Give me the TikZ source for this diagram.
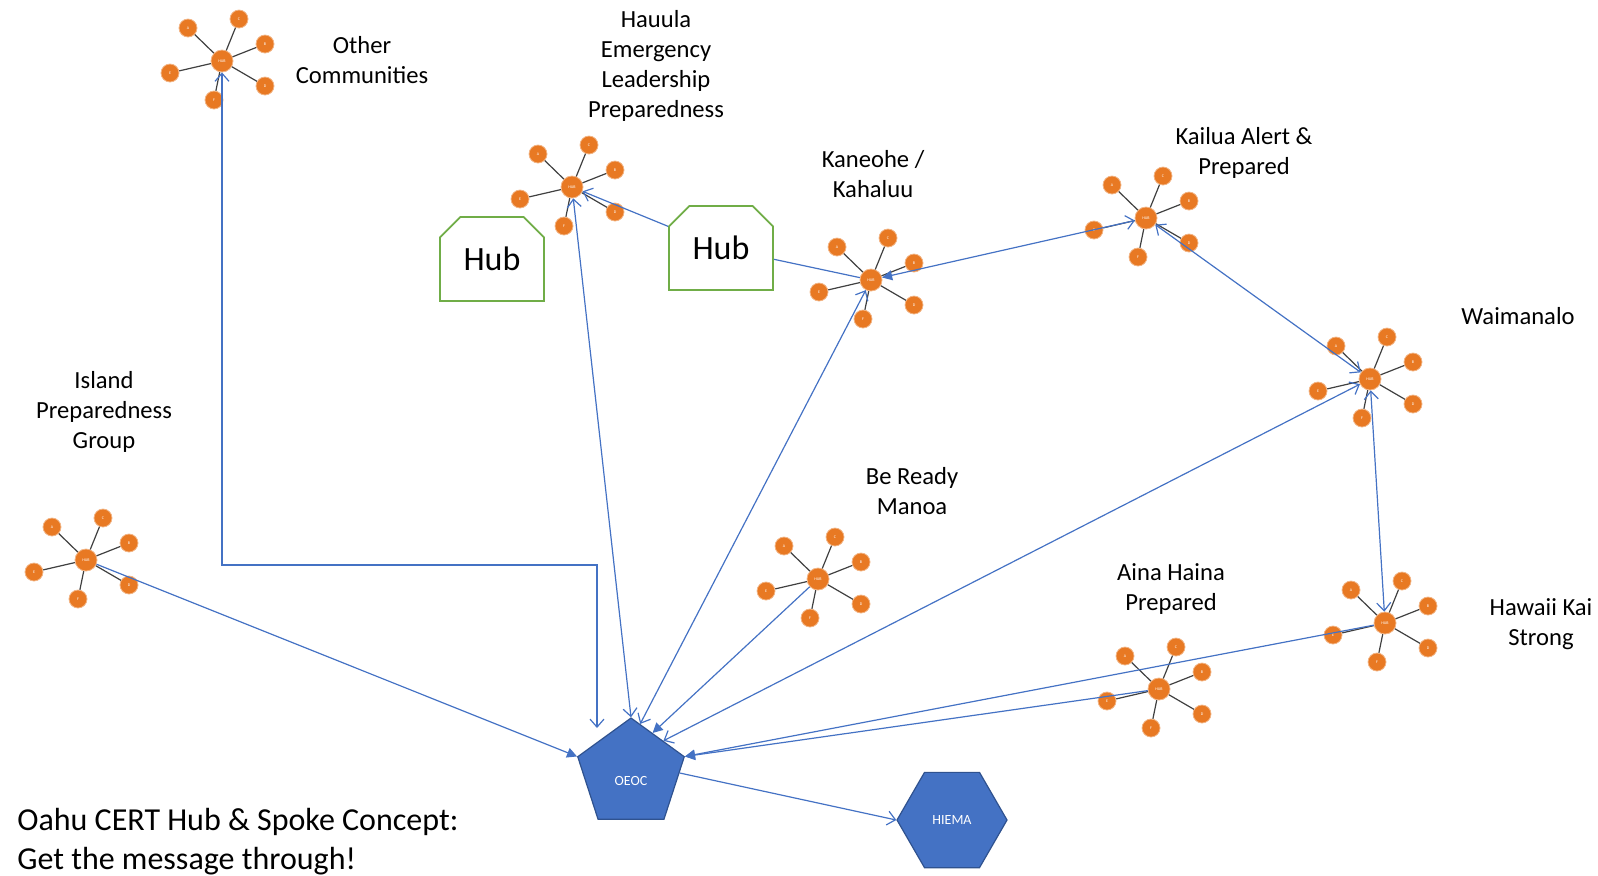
\documentclass[tikz,border=0pt]{standalone}
\usepackage{fontspec}
\setmainfont{Carlito}
\usetikzlibrary{shapes.geometric, shapes.misc, arrows.meta, positioning, calc}
\definecolor{LinkBlue}{RGB}{68, 114, 196}
\definecolor{PolyEdge}{RGB}{47, 82, 143}
\definecolor{SpokeOrange}{RGB}{232, 121, 35}
\definecolor{HubGreen}{RGB}{112, 173, 71}
\definecolor{SpokeGray}{RGB}{64, 64, 64}

% one community: hub node with six lettered members
\newcommand{\community}[3]{%
  \node[hubdot] (#1) at (#2,#3) {HUB};
  \foreach \sat/\ox/\oy in {A/-34/-33, C/17/-42, B/43/-17, D/43/25, E/-52/12, F/-8/39}{
    \node[memberdot] (#1-\sat) at ($(#1)+(\ox,\oy)$) {\sat};
    \draw[spoke] (#1) -- (#1-\sat);
  }%
}

\begin{document}
\begin{tikzpicture}[x=0.5pt, y=-0.5pt, >={Straight Barb[length=4pt,width=7pt]},
    hubdot/.style={circle, fill=SpokeOrange, draw=SpokeOrange!55!white, line width=0.4pt, minimum size=11pt, inner sep=0pt, text=white, font=\fontsize{2}{2}\selectfont},
    memberdot/.style={circle, fill=SpokeOrange, draw=SpokeOrange!55!white, line width=0.4pt, minimum size=9pt, inner sep=0pt, text=white, font=\fontsize{2}{2}\selectfont},
    spoke/.style={draw=SpokeGray, line width=0.6pt},
    link/.style={draw=LinkBlue, line width=0.6pt},
    solidtip/.style={-{Triangle[length=5pt,width=5pt]}},
    commlabel/.style={align=center, inner sep=0pt, font=\fontsize{12.3}{15}\selectfont},
    agency/.style={regular polygon, inner sep=0pt, fill=LinkBlue, draw=PolyEdge, line width=0.6pt, text=white, font=\fontsize{7}{7}\selectfont},
    hubbox/.style={chamfered rectangle, chamfered rectangle corners={north west, north east}, chamfered rectangle xsep=7pt, draw=HubGreen, line width=0.9pt, fill=white, minimum width=52pt, minimum height=42pt, font=\fontsize{17}{17}\selectfont}]
  \useasboundingbox (0,0) rectangle (1598,875);

  % Communities
  \community{other}{222}{61}
  \community{hauula}{572}{187}
  \community{kaneohe}{871}{280}
  \community{kailua}{1146}{218}
  \community{waimanalo}{1370}{379}
  \community{island}{86}{560}
  \community{bereadymanoa}{818}{579}
  \community{ainahaina}{1159}{689}
  \community{hawaiikai}{1385}{623}

  % Labels
  \node[commlabel] (otherlabel) at (362,60) {Other\\Communities};
  \node[commlabel] (hauulalabel) at (656,66) {Hauula\\Emergency\\Leadership\\Preparedness};
  \node[commlabel] (kaneohelabel) at (873,174) {Kaneohe /\\Kahaluu};
  \node[commlabel] (kailualabel) at (1244,153) {Kailua Alert \&\\Prepared};
  \node[commlabel] (waimanalolabel) at (1518,316) {Waimanalo};
  \node[commlabel] (islandlabel) at (104,412) {Island\\Preparedness\\Group};
  \node[commlabel] (bereadylabel) at (912,491) {Be Ready\\Manoa};
  \node[commlabel] (ainahainalabel) at (1171,589) {Aina Haina\\Prepared};
  \node[commlabel] (hawaiikailabel) at (1541,624) {Hawaii Kai\\Strong};

  % Hubs and agencies
  \node[hubbox] (hubL) at (492,259) {Hub};
  \node[hubbox] (hubR) at (721,248) {Hub};
  \node[agency, regular polygon sides=5, minimum size=56pt, text height=12pt] (oeoc) at (631,774) {OEOC};
  \node[agency, regular polygon sides=6, minimum size=55pt] (hiema) at (952,820) {HIEMA};

  \node[align=left, anchor=west, inner sep=0pt, font=\fontsize{16}{19.5}\selectfont] (title) at (17,842) {Oahu CERT Hub \& Spoke Concept:\\Get the message through!};

  % Links
  \coordinate (otherknee) at (597,565);
  \coordinate (otherdrop) at (597,728);
  \draw[link, <->] (other) |- (otherknee) -- (otherdrop);
  \draw[link, <->] (hauula) -- (oeoc.corner 1);
  \draw[link, ->] (hubR) -- (hauula);
  \draw[link] (hubR) -- (kaneohe);
  \draw[link, {Straight Barb[length=4pt,width=7pt]}-{Triangle[length=5pt,width=5pt]}] (kailua) -- (kaneohe);
  \draw[link, <->] (kailua) -- (waimanalo);
  \draw[link, <->] (hawaiikai) -- (waimanalo);
  \draw[link, <->] (kaneohe) -- ($(oeoc.corner 1)!0.17!(oeoc.corner 5)$);
  \draw[link, solidtip] (bereadymanoa) -- ($(oeoc.corner 1)!0.4!(oeoc.corner 5)$);
  \draw[link, <->] (waimanalo) -- ($(oeoc.corner 1)!0.6!(oeoc.corner 5)$);
  \draw[link, solidtip] (island) -- (oeoc.corner 2);
  \draw[link, solidtip] (ainahaina) -- (oeoc.corner 5);
  \draw[link, solidtip] (hawaiikai) -- (oeoc.corner 5);
  \draw[link, ->] ($(oeoc.corner 5)!0.26!(oeoc.corner 4)$) -- (hiema.west);
\end{tikzpicture}
\end{document}
